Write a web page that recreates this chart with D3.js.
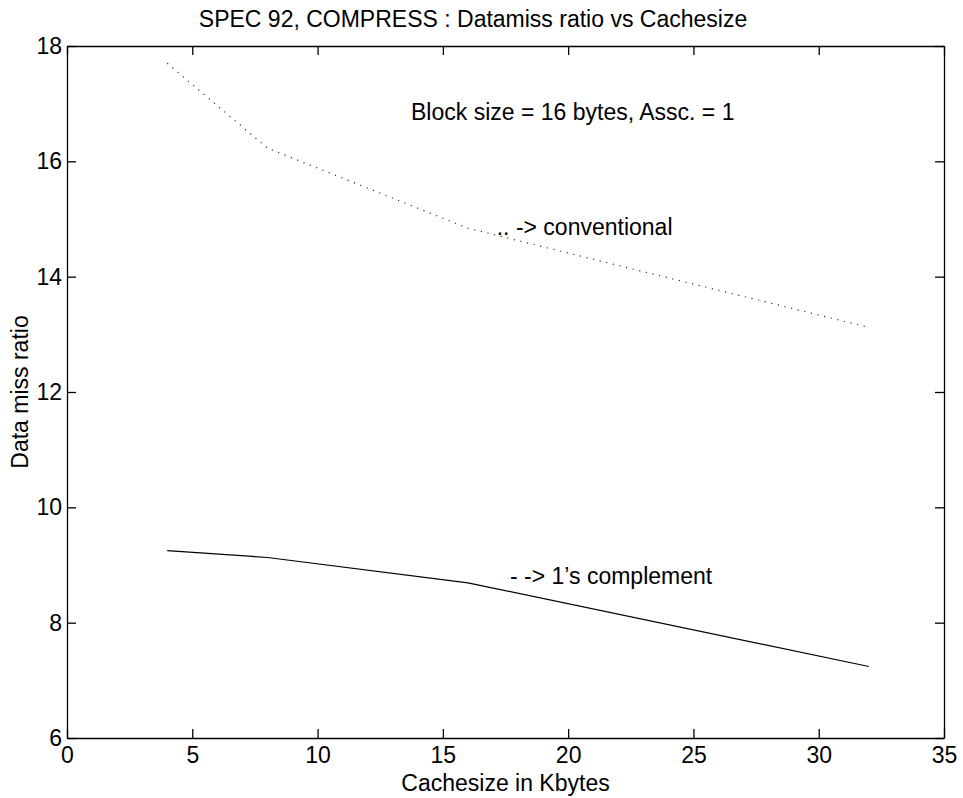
<!DOCTYPE html>
<html>
<head>
<meta charset="utf-8">
<script src="https://cdn.jsdelivr.net/npm/d3@7"></script>
<style>
    body { margin: 0; background: #fff; }
    svg { display: block; }
    text { font-family: "Liberation Sans", Arial, sans-serif; fill: #000; }
    .axis path, .axis line { stroke: #000; stroke-width: 1.3px; }
    .axis text { font-size: 23px; font-family: "Liberation Sans", Arial, sans-serif; }
</style>
</head>
<body>
<svg id="chart"></svg>
<script>
// cache sizes (Kbytes) and miss ratios
const cacheSizes = [4, 8, 16, 32];
const conventional = [17.70, 16.23, 14.84, 13.12];
const onesComplement = [9.25, 9.13, 8.69, 7.24];
const xTicks = [0, 5, 10, 15, 20, 25, 30, 35];
const yTicks = [6, 8, 10, 12, 14, 16, 18];

const totalWidth = 963,
    totalHeight = 798;
const margin = { top: 46, right: 19, bottom: 60, left: 67 },
    width = totalWidth - margin.left - margin.right,
    height = totalHeight - margin.top - margin.bottom;

const svg = d3.select("#chart")
    .attr("width", totalWidth)
    .attr("height", totalHeight);

const g = svg.append("g")
    .attr("transform", "translate(" + margin.left + "," + margin.top + ")");

const x = d3.scaleLinear().domain([0, 35]).range([0, width]);
const y = d3.scaleLinear().domain([6, 18]).range([height, 0]);

// box axes, ticks pointing inward
g.append("g")
    .attr("class", "axis")
    .attr("transform", "translate(0," + height + ")")
    .call(d3.axisBottom(x).tickValues(xTicks).tickSizeInner(-9).tickSizeOuter(0).tickPadding(9));
g.append("g")
    .attr("class", "axis")
    .call(d3.axisLeft(y).tickValues(yTicks).tickSizeInner(-9).tickSizeOuter(0).tickPadding(5));
g.append("g")
    .attr("class", "axis")
    .call(d3.axisTop(x).tickValues(xTicks).tickSizeInner(-9).tickSizeOuter(0).tickFormat(""));
g.append("g")
    .attr("class", "axis")
    .attr("transform", "translate(" + width + ",0)")
    .call(d3.axisRight(y).tickValues(yTicks).tickSizeInner(-9).tickSizeOuter(0).tickFormat(""));

g.selectAll(".axis text").attr("fill", "#000");

const line = d3.line()
    .x(d => x(d[0]))
    .y(d => y(d[1]));

// conventional: dotted
g.append("path")
    .datum(d3.zip(cacheSizes, conventional))
    .attr("d", line)
    .attr("fill", "none")
    .attr("stroke", "#333")
    .attr("stroke-width", 1.2)
    .attr("stroke-dasharray", "1.2,5.6");

// 1's complement: solid
g.append("path")
    .datum(d3.zip(cacheSizes, onesComplement))
    .attr("d", line)
    .attr("fill", "none")
    .attr("stroke", "#000")
    .attr("stroke-width", 1.2);

// annotations
const note = (xv, yv, s) => g.append("text")
    .attr("x", x(xv))
    .attr("y", y(yv))
    .style("font-size", "23px")
    .text(s);
note(13.73, 16.72, "Block size = 16 bytes, Assc. = 1");
note(17.15, 14.73, ".. -> conventional");
note(17.68, 8.67, "- -> 1\u2019s complement");

// title and axis labels
svg.append("text")
    .attr("x", 473)
    .attr("y", 27)
    .attr("text-anchor", "middle")
    .style("font-size", "23px")
    .text("SPEC 92, COMPRESS : Datamiss ratio vs Cachesize");

svg.append("text")
    .attr("x", margin.left + width / 2)
    .attr("y", 791)
    .attr("text-anchor", "middle")
    .style("font-size", "23px")
    .text("Cachesize in Kbytes");

svg.append("text")
    .attr("transform", "translate(28," + (margin.top + height / 2) + ") rotate(-90)")
    .attr("text-anchor", "middle")
    .style("font-size", "23px")
    .text("Data miss ratio");
</script>
</body>
</html>
